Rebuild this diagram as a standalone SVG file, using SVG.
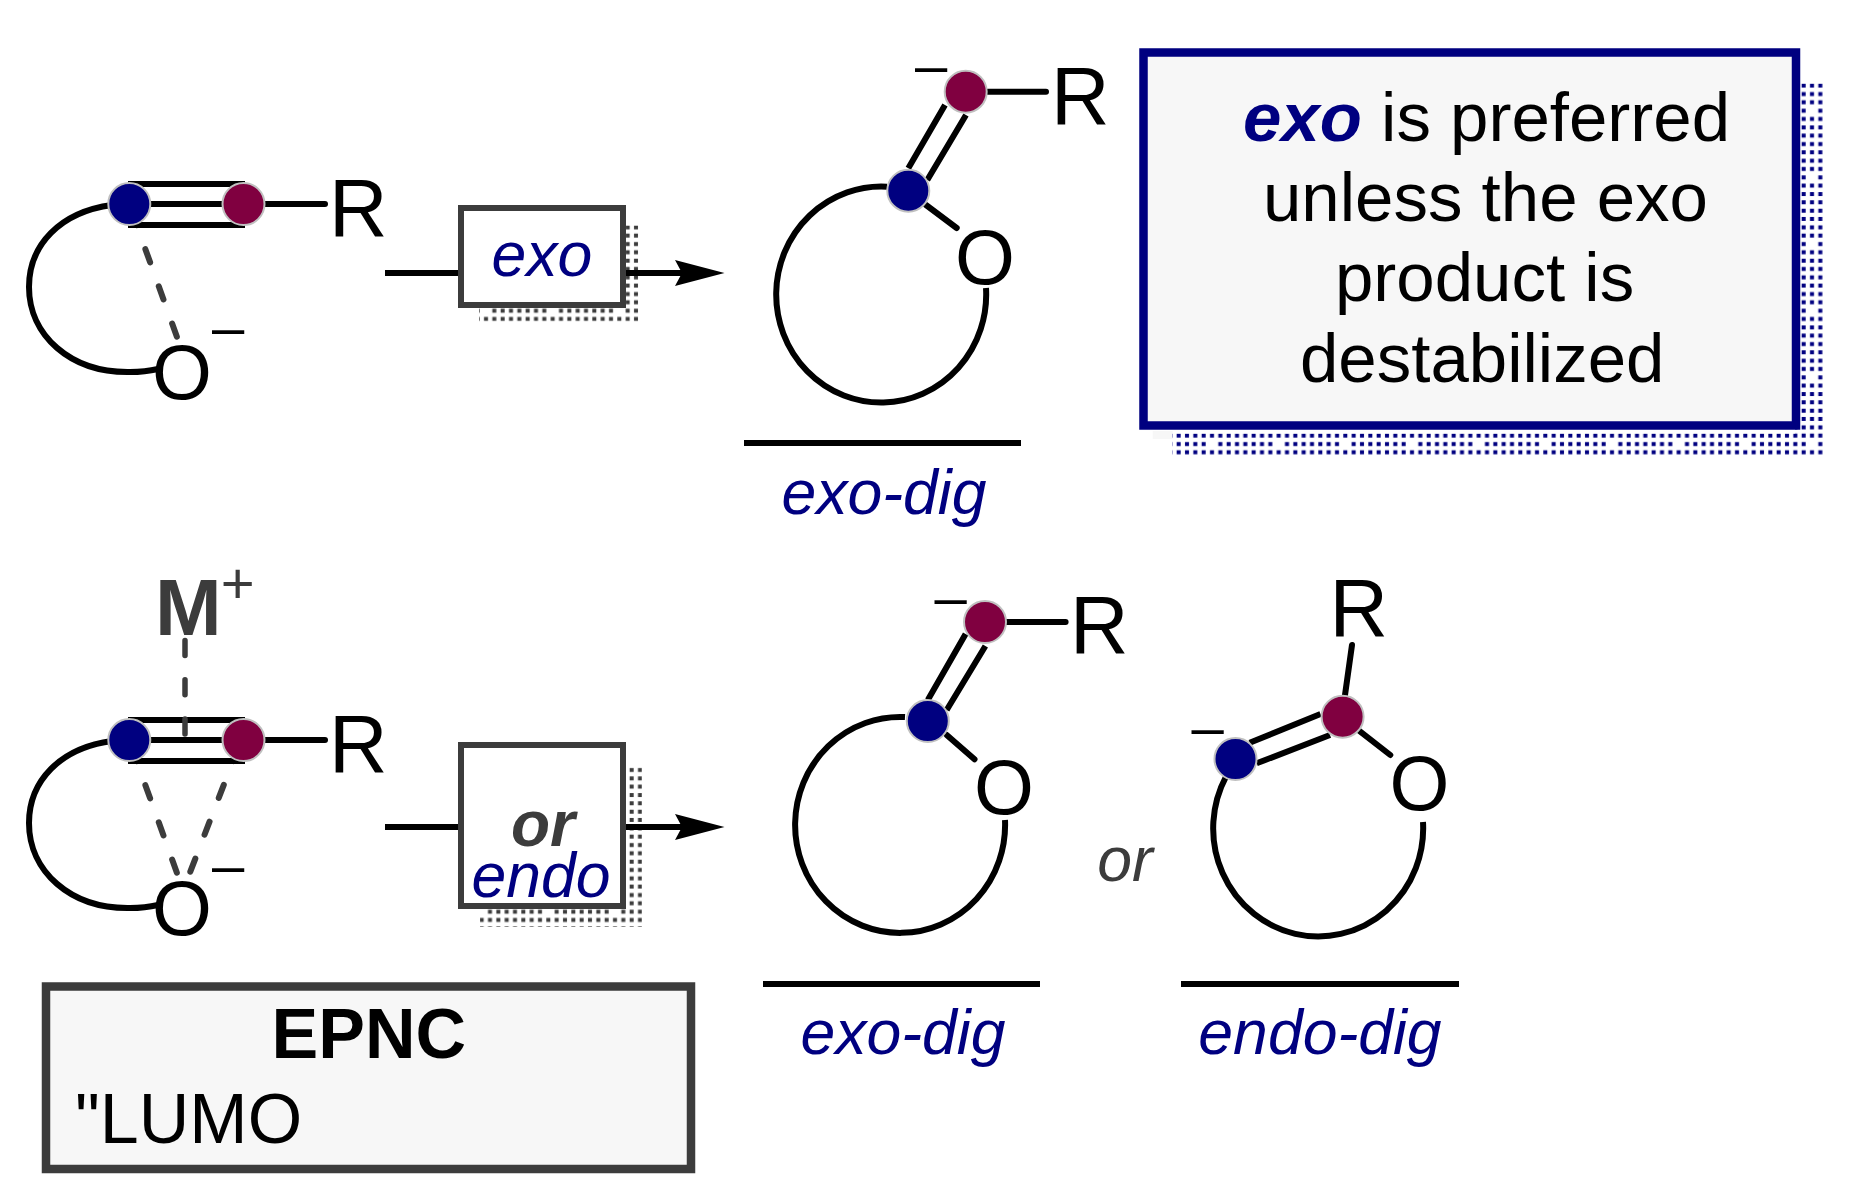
<svg xmlns="http://www.w3.org/2000/svg" xmlns:xlink="http://www.w3.org/1999/xlink" width="1849" height="1203" viewBox="0 0 1849 1203">
<style>
text{font-family:"Liberation Sans",Arial,sans-serif;fill:#000}
.atom{font-size:79px}
.rr{font-size:81px}
.o{font-size:77px}
.mid{text-anchor:middle}
.neg{font-size:58px}
.nav{fill:#000080}
.it{font-style:italic;font-size:62.5px}
.big{font-size:69px}
.gr{fill:#3c3c3c}
.b{fill:none;stroke:#000;stroke-width:6}
.r{stroke-linecap:round}
.d{fill:none;stroke:#3c3c3c;stroke-width:6;stroke-linecap:round}
.dv{fill:none;stroke:#3c3c3c;stroke-width:5.5;stroke-linecap:round;stroke-dasharray:15 24.3}
.cb{fill:#000080;stroke:#c0c0c0;stroke-width:2}
.cr{fill:#800040;stroke:#c0c0c0;stroke-width:2}
.box{fill:#fff;stroke:#3c3c3c;stroke-width:6}
.tile{fill:none;stroke-width:4;stroke-dasharray:4 4.333}
</style>
<defs>
<path id="t" d="M10.5 4.17H66.67M2.17 12.5H66.67M2.17 20.83H66.67M2.17 29.17H66.67M2.17 37.5H66.67M2.17 45.83H66.67M2.17 54.17H66.67M2.17 62.5H66.67"/>
<pattern id="pb" patternUnits="userSpaceOnUse" x="1807.83" y="106.5" width="66.667" height="66.667"><use xlink:href="#t" class="tile" stroke="#000080"/></pattern>
<pattern id="pg1" patternUnits="userSpaceOnUse" x="548.5" y="306.5" width="66.667" height="66.667"><use xlink:href="#t" class="tile" stroke="#3c3c3c"/></pattern>
<pattern id="pg2" patternUnits="userSpaceOnUse" x="610.83" y="907.5" width="66.667" height="66.667"><use xlink:href="#t" class="tile" stroke="#3c3c3c"/></pattern>
<marker id="ah" markerUnits="userSpaceOnUse" markerWidth="52" markerHeight="28" refX="15" refY="13" orient="auto"><path d="M0 0L49.5 13L0 26L7 13z" fill="#000"/></marker>
</defs>
<rect width="1849" height="1203" fill="#fff"/>
<g id="shadows">
<path fill="url(#pg1)" d="M620 225.5H638.5V321.5H479V308H620z"/>
<path fill="url(#pg2)" d="M620 767.5H642V927H480V909H620z"/>
<rect x="1152.7" y="431" width="20" height="8" fill="#f7f7f7"/>
<path fill="url(#pb)" d="M1795 83.5H1823V455H1172V433.5H1795z"/>
</g>
<g id="connectors">
<path class="b" d="M112 205C60 212 29 245 29 287C29 335 70 373 130 372Q145 372 158 369"/>
<path class="d" stroke-dasharray="14 25.5" d="M132 212L177 337"/>
<path class="b" d="M128 184H245M128 204H245M128 225H245"/>
<path class="b r" d="M265 204H325"/>
<path class="b" d="M385 273H458M626 273H690" marker-end="url(#ah)"/>
<path class="b" d="M112 741C60 748 29 781 29 823C29 871 70 909 130 908Q145 908 158 905"/>
<path class="d" stroke-dasharray="14 25.5" d="M132 748L177 873"/>
<path class="d" stroke-dasharray="14 25.5" d="M238 748L189 875"/>
<path class="b" d="M128 720H245M128 740H245M128 761H245"/>
<path class="dv" d="M185 640.5V735"/>
<path class="b r" d="M265 740H325"/>
<path class="b" d="M385 827H458M626 827H690" marker-end="url(#ah)"/>
<path class="b" d="M887 186.7A105 108 0 1 0 986 288"/>
<path class="b" d="M908.3 168.3L945 105M927.3 180L966 115"/>
<path class="b r" d="M926 205L956.7 228M987.7 91.7H1046"/>
<path class="b" d="M905 717A105 108 0 1 0 1005 820"/>
<path class="b" d="M927.8 700L965.6 634M946.7 710L985.4 646"/>
<path class="b r" d="M946.7 735L974.5 759.3M1006.6 622H1065.6"/>
<path class="b" d="M1226 776.7A105 108 0 1 0 1423 822"/>
<path class="b" d="M1249.7 742.7L1320.5 714M1256.7 763.3L1330 735"/>
<path class="b r" d="M1359 730.7L1390.3 755M1352 645L1345 695"/>
<path class="b" d="M744 443H1021M763 984H1040M1181 984H1459"/>
</g>
<g id="reactant-exo">
<circle class="cb" cx="129.3" cy="204" r="21"/>
<circle class="cr" cx="243.5" cy="204" r="21"/>
<text class="rr" x="329" y="236">R</text>
<text class="o mid" x="182" y="399">O</text>
<text class="neg" x="212" y="347">–</text>
</g>
<g id="box-exo">
<rect class="box" x="461" y="208" width="162" height="97"/>
<text class="it nav mid" x="542" y="276">exo</text>
</g>
<g id="product-exo">
<circle class="cb" cx="908.3" cy="190.7" r="21"/>
<circle class="cr" cx="965.7" cy="91.7" r="21"/>
<text class="rr" x="1051" y="124">R</text>
<text class="o mid" x="985" y="284">O</text>
<text class="neg" x="915" y="85">–</text>
<text class="it nav mid" x="884" y="514">exo-dig</text>
</g>
<g id="note-exo">
<rect x="1143.5" y="52.5" width="652.5" height="373" fill="#f7f7f7" stroke="#000080" stroke-width="8.5"/>
<text class="big" x="1243" y="140.7"><tspan class="nav" font-weight="700" font-style="italic">exo</tspan> is preferred</text>
<text class="big" x="1263" y="220.7">unless the exo</text>
<text class="big" x="1335" y="300.7">product is</text>
<text class="big" x="1300" y="381.7">destabilized</text>
</g>
<g id="reactant-metal">
<text font-size="80" font-weight="700" class="gr" x="155" y="635">M</text>
<text font-size="58" class="gr" x="220.7" y="603">+</text>
<circle class="cb" cx="129.3" cy="740" r="21"/>
<circle class="cr" cx="243.5" cy="740" r="21"/>
<text class="rr" x="329" y="772">R</text>
<text class="o mid" x="182" y="935">O</text>
<text class="neg" x="212" y="884.7">–</text>
</g>
<g id="box-or-endo">
<rect class="box" x="461" y="745" width="162" height="161"/>
<text class="gr mid" font-size="64" font-weight="700" font-style="italic" x="543" y="846">or</text>
<text class="it nav mid" x="541" y="897">endo</text>
</g>
<g id="epnc">
<rect x="46" y="986.5" width="645" height="182.5" fill="#f7f7f7" stroke="#3c3c3c" stroke-width="8.5"/>
<text font-size="70" font-weight="700" x="271.5" y="1057.7">EPNC</text>
<text font-size="70" x="75" y="1142.7">"LUMO</text>
</g>
<g id="product-exo-2">
<circle class="cb" cx="927.8" cy="721" r="21"/>
<circle class="cr" cx="985" cy="622" r="21"/>
<text class="rr" x="1070" y="653.3">R</text>
<text class="o mid" x="1004" y="814">O</text>
<text class="neg" x="934.4" y="617.3">–</text>
<text class="it nav mid" x="903" y="1054.3">exo-dig</text>
</g>
<text id="or-label" class="it gr mid" x="1125" y="880.7">or</text>
<g id="product-endo">
<circle class="cb" cx="1235.5" cy="759" r="21"/>
<circle class="cr" cx="1342.6" cy="716.7" r="21"/>
<text class="rr" x="1329.5" y="635.7">R</text>
<text class="o mid" x="1419.5" y="810">O</text>
<text class="neg" x="1191.6" y="747.3">–</text>
<text class="it nav mid" x="1320" y="1054.3">endo-dig</text>
</g>
</svg>
